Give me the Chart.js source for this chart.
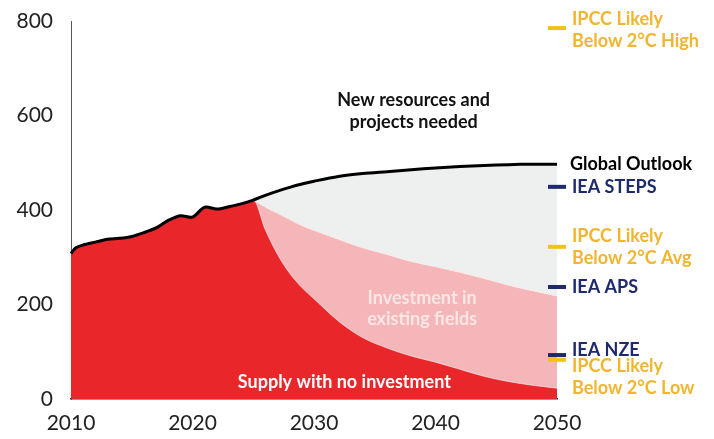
<!DOCTYPE html>
<html>
<head>
<meta charset="utf-8">
<script src="https://cdn.jsdelivr.net/npm/chart.js@4.4.1/dist/chart.umd.min.js"></script>
<style>
  html, body { margin: 0; padding: 0; background: #fff; }
  #wrap { width: 714px; height: 439px; position: relative; }
</style>
</head>
<body>
<div id="wrap"><canvas id="supply-chart" width="714" height="439"></canvas></div>
<script>
// ── Data ──────────────────────────────────────────────────
const histYears  = [2010, 2010.4, 2011, 2012, 2013, 2014, 2015, 2016, 2017, 2018, 2019, 2020, 2021, 2022, 2023, 2024, 2025];
const histSupply = [308, 320, 326, 332, 338, 340, 344, 352, 362, 378, 388, 385, 406, 402, 407, 413, 421];

const projYears        = [2025, 2026, 2027, 2028, 2029, 2030, 2032, 2034, 2036, 2038, 2040, 2042, 2044, 2046, 2048, 2050];
const globalOutlook    = [421, 431, 440, 448, 455, 461, 471, 477, 481, 485, 489, 492, 494, 496, 497, 497];
const existingFields   = [421, 406, 393, 380, 367, 357, 338, 320, 306, 291, 280, 268, 255, 241, 229, 218];
const noInvestment     = [421, 358, 306, 266, 236, 212, 165, 130, 108, 91, 78, 63, 48, 37, 29, 23];

const scenarioNames  = ['IPCC Likely\nBelow 2°C High', 'IEA STEPS', 'IPCC Likely\nBelow 2°C Avg', 'IEA APS', 'IEA NZE', 'IPCC Likely\nBelow 2°C Low'];
const scenarioValues = [785, 449, 322, 237, 93, 83];
const scenarioGroup  = ['ipcc', 'iea', 'ipcc', 'iea', 'iea', 'ipcc'];

const xTicks = [2010, 2020, 2030, 2040, 2050];

// ── Styles ────────────────────────────────────────────────
const RED = '#e9262a', PINK = '#f4b6b8', GREY = '#eef0f0';
const NAVY = '#1e2a6c', GOLD = '#f1b52f', GOLD_DASH = '#f3c21a';
const FONT = 'Lato, "Open Sans", sans-serif';

const toPts = (xs, ys) => xs.map((x, i) => ({ x: x, y: ys[i] }));
const outlookPts = toPts(histYears.concat(projYears.slice(1)), histSupply.concat(globalOutlook.slice(1)));
const redPts     = toPts(histYears.concat(projYears.slice(1)), histSupply.concat(noInvestment.slice(1)));

// text offsets (px) for the right-hand scenario labels
const labelOffsets = { 0: 2, 1: 0, 2: 0, 3: 0, 4: -5, 5: 17 };

const labelsPlugin = {
  id: 'labels',
  afterDatasetsDraw(chart) {
    const { ctx, chartArea, scales: { x, y } } = chart;
    ctx.save();
    ctx.textBaseline = 'middle';

    // scenario labels
    const lx = chartArea.right + 15;
    scenarioNames.forEach((name, i) => {
      const lines = name.split('\n');
      const lh = 22;
      const cy = y.getPixelForValue(scenarioValues[i]) + (labelOffsets[i] || 0);
      ctx.fillStyle = scenarioGroup[i] === 'ipcc' ? GOLD : NAVY;
      ctx.font = 'bold 18px ' + FONT;
      ctx.textAlign = 'left';
      lines.forEach((ln, k) => {
        ctx.fillText(ln, lx, cy + (k - (lines.length - 1) / 2) * lh);
      });
    });

    // Global Outlook label at the end of its line
    ctx.fillStyle = '#000';
    ctx.font = 'bold 18px ' + FONT;
    ctx.fillText('Global Outlook', chartArea.right + 13, y.getPixelForValue(globalOutlook[globalOutlook.length - 1]));

    // area annotations
    ctx.textAlign = 'center';
    ctx.font = 'bold 18px ' + FONT;
    ctx.fillStyle = '#111';
    ctx.fillText('New resources and', x.getPixelForValue(2038.2), y.getPixelForValue(633));
    ctx.fillText('projects needed', x.getPixelForValue(2038.2), y.getPixelForValue(586));

    ctx.fillStyle = '#fbe6e6';
    ctx.fillText('Investment in', x.getPixelForValue(2038.9), y.getPixelForValue(214));
    ctx.fillText('existing fields', x.getPixelForValue(2038.9), y.getPixelForValue(169));

    ctx.fillStyle = '#ffffff';
    ctx.fillText('Supply with no investment', x.getPixelForValue(2032.5), y.getPixelForValue(36));
    ctx.restore();
  }
};

new Chart(document.getElementById('supply-chart').getContext('2d'), {
  type: 'line',
  data: {
    datasets: [
      {
        label: 'Scenarios', type: 'scatter',
        data: scenarioValues.map(v => ({ x: 2050, y: v })),
        pointStyle: 'line', pointRadius: 9, pointHoverRadius: 9,
        borderWidth: 4,
        pointBorderColor: scenarioGroup.map(g => g === 'ipcc' ? GOLD_DASH : NAVY),
        clip: false
      },
      {
        label: 'Global Outlook', data: outlookPts,
        borderColor: '#000', borderWidth: 3, pointRadius: 0, fill: false,
        tension: 0.3, clip: false
      },
      {
        label: 'Supply with no investment', data: redPts,
        borderColor: 'rgba(255,255,255,0.6)', borderWidth: 1, pointRadius: 0,
        backgroundColor: RED, fill: 'origin', cubicInterpolationMode: 'monotone'
      },
      {
        label: 'Investment in existing fields', data: toPts(projYears, existingFields),
        borderColor: 'rgba(255,235,235,0.8)', borderWidth: 1, pointRadius: 0,
        backgroundColor: PINK, fill: 'origin', cubicInterpolationMode: 'monotone'
      },
      {
        label: 'New resources', data: toPts(projYears, globalOutlook),
        borderColor: 'rgba(0,0,0,0)', borderWidth: 0, pointRadius: 0,
        backgroundColor: GREY, fill: 'origin', tension: 0.3
      }
    ]
  },
  options: {
    responsive: false, animation: false,
    layout: { padding: { top: 21, right: 157, left: 0, bottom: 0 } },
    plugins: { legend: { display: false }, tooltip: { enabled: false } },
    scales: {
      x: {
        type: 'linear', min: 2010, max: 2050,
        grid: { display: false, drawTicks: false },
        border: { display: true, color: '#333', width: 1.5 },
        afterBuildTicks: s => { s.ticks = xTicks.map(v => ({ value: v })); },
        afterFit: s => { s.height = 40; s.paddingLeft = 0; s.paddingRight = 0; },
        ticks: { padding: 12, color: '#222', font: { family: FONT, size: 21 }, callback: v => String(v) }
      },
      y: {
        min: 0, max: 800,
        grid: { display: false, drawTicks: false },
        border: { display: true, color: '#555', width: 1 },
        afterFit: s => { s.width = 71; s.paddingTop = 0; s.paddingBottom = 0; },
        ticks: { stepSize: 200, padding: 18, color: '#222', font: { family: FONT, size: 21 } }
      }
    }
  },
  plugins: [labelsPlugin]
});
</script>
</body>
</html>
